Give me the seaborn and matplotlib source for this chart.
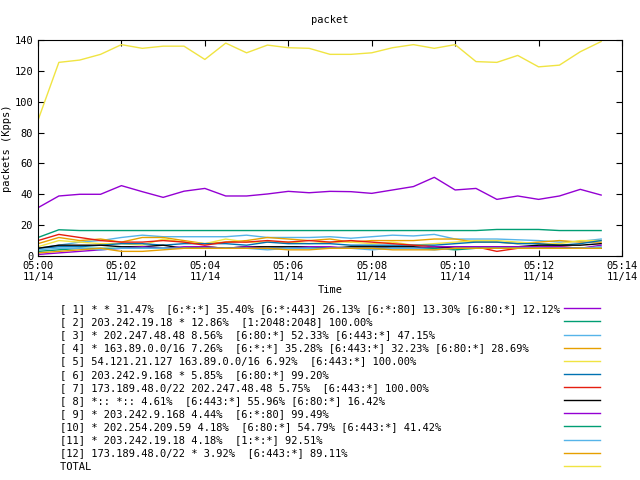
import matplotlib
matplotlib.use("Agg")
import matplotlib.pyplot as plt
import matplotlib.dates as mdates
import seaborn as sns
import pandas as pd
import numpy as np

times = pd.date_range("2024-11-14 05:00:00", periods=28, freq="30s")

labels = [
    "[ 1] * * 31.47%  [6:*:*] 35.40% [6:*:443] 26.13% [6:*:80] 13.30% [6:80:*] 12.12%",
    "[ 2] 203.242.19.18 * 12.86%  [1:2048:2048] 100.00%",
    "[ 3] * 202.247.48.48 8.56%  [6:80:*] 52.33% [6:443:*] 47.15%",
    "[ 4] * 163.89.0.0/16 7.26%  [6:*:*] 35.28% [6:443:*] 32.23% [6:80:*] 28.69%",
    "[ 5] 54.121.21.127 163.89.0.0/16 6.92%  [6:443:*] 100.00%",
    "[ 6] 203.242.9.168 * 5.85%  [6:80:*] 99.20%",
    "[ 7] 173.189.48.0/22 202.247.48.48 5.75%  [6:443:*] 100.00%",
    "[ 8] *:: *:: 4.61%  [6:443:*] 55.96% [6:80:*] 16.42%",
    "[ 9] * 203.242.9.168 4.44%  [6:*:80] 99.49%",
    "[10] * 202.254.209.59 4.18%  [6:80:*] 54.79% [6:443:*] 41.42%",
    "[11] * 203.242.19.18 4.18%  [1:*:*] 92.51%",
    "[12] 173.189.48.0/22 * 3.92%  [6:443:*] 89.11%",
    "TOTAL",
]
colors = ["#9400d3", "#009e73", "#56b4e9", "#e69f00", "#f0e442", "#0072b2",
          "#e51e10", "#000000", "#9400d3", "#009e73", "#56b4e9", "#e69f00", "#f0e442"]

s1 = [31.3, 38.9, 40, 40, 45.6, 41.7, 38, 42, 43.8, 38.9, 38.9, 40.2, 41.9, 41,
      41.9, 41.7, 40.6, 42.8, 45, 51, 42.8, 43.8, 36.7, 38.9, 36.7, 38.9, 43.2, 39.5]
s2 = [12, 17, 16.5, 16.5, 16.5, 16.5, 16.5, 16.5, 16.5, 16.5, 16.5, 16.5, 16.5, 16.5,
      16.5, 16.5, 16.5, 16.5, 16.5, 16.5, 16.5, 16.5, 17.2, 17.2, 17.2, 16.5, 16.5, 16.5]
s3 = [5, 7, 9, 10, 12, 13.5, 12.5, 12.5, 12.5, 12.5, 13.5, 12, 12, 12, 12.5, 11.5,
      12.5, 13.5, 13, 14, 11, 11, 11, 10.5, 10, 9, 9.5, 11]
s4 = [8, 12, 10, 11, 9, 12, 12, 10, 8, 9, 10, 12, 11, 10, 11, 9, 10, 10, 10, 11,
      11, 9, 9, 8, 9, 10, 9, 9]
s5 = [6, 10, 9, 8, 8, 7, 11, 9, 8, 11, 9, 9, 9, 8, 9, 9, 8, 9, 7, 8, 9, 10, 10,
      9, 8, 8, 10, 10]
s6 = [5, 6, 6, 7, 8, 8, 7, 8, 8, 8, 7, 9, 8, 8, 8, 7, 7, 7, 7, 7, 8, 9, 9, 8, 8,
      7, 8, 10]
s7 = [10, 14, 12, 10, 9, 9, 10, 9, 7, 9, 9, 10, 9, 10, 9, 10, 9, 8, 7, 6, 6, 6,
      3, 5, 5, 6, 5, 5]
s8 = [5, 7, 7, 7, 6, 6, 7, 5, 6, 5, 6, 6, 6, 6, 5, 6, 6, 6, 6, 5, 6, 6, 6, 6, 7,
      7, 7, 8]
s9 = [1, 2, 3, 4, 5, 6, 5, 6, 6, 5, 6, 5, 5, 6, 6, 5, 5, 5, 5, 6, 6, 6, 6, 6, 6,
      6, 5, 7]
s10 = [3, 4, 5, 5, 5, 5, 5, 5, 5, 5, 5, 5, 5, 5, 5, 5, 5, 5, 5, 5, 4, 5, 5, 5, 5,
       5, 5, 5]
s11 = [4, 5, 5, 4, 5, 5, 5, 5, 5, 5, 5, 4, 5, 5, 5, 5, 4, 5, 5, 4, 5, 5, 5, 5, 5,
       5, 5, 6]
s12 = [2, 3, 4, 5, 3, 3, 4, 5, 5, 5, 5, 5, 4, 4, 5, 5, 5, 4, 4, 4, 5, 5, 5, 5, 5,
       5, 5, 5]
total = [88, 125.5, 127, 130.7, 137, 134.6, 136, 136, 127.4, 138, 131.7, 136.7, 135,
         134.6, 130.7, 130.7, 131.7, 135, 137, 134.6, 137, 126, 125.5, 130, 122.6,
         123.7, 132.4, 139]
series = [s1, s2, s3, s4, s5, s6, s7, s8, s9, s10, s11, s12, total]

width = max(len(l) for l in labels)

plt.rcParams["font.family"] = "DejaVu Sans Mono"
fig = plt.figure(figsize=(6.4, 4.8), dpi=100)
ax = fig.add_axes([38/640, 1-256/480, (622-38)/640, (256-40)/480])
for lab, col, vals in zip(labels, colors, series):
    sns.lineplot(x=times, y=vals, ax=ax, color=col, label=lab.ljust(width), linewidth=1)

ax.set_xlim(pd.Timestamp("2024-11-14 05:00"), pd.Timestamp("2024-11-14 05:14"))
ax.set_ylim(0, 140)
ax.set_yticks(range(0, 141, 20))
ax.xaxis.set_major_locator(mdates.MinuteLocator(byminute=range(0, 60, 2)))
ax.xaxis.set_major_formatter(mdates.DateFormatter("%H:%M\n%m/%d"))
ax.tick_params(direction="in", top=True, right=True, labelsize=7.5, length=4)
ax.set_xlabel("Time", fontsize=7.5, labelpad=2)
ax.set_ylabel("packets (Kpps)", fontsize=7.5, labelpad=2)
ax.set_title("packet", fontsize=7.5, pad=12)
leg = ax.legend(loc="upper left", bbox_to_anchor=(60/640, 1-304/480),
                bbox_transform=fig.transFigure, frameon=False, markerfirst=False,
                fontsize=7.5, labelspacing=0.3, handlelength=3.4, handletextpad=0.4,
                borderaxespad=0, borderpad=0)
fig.savefig("out.png", dpi=100)
